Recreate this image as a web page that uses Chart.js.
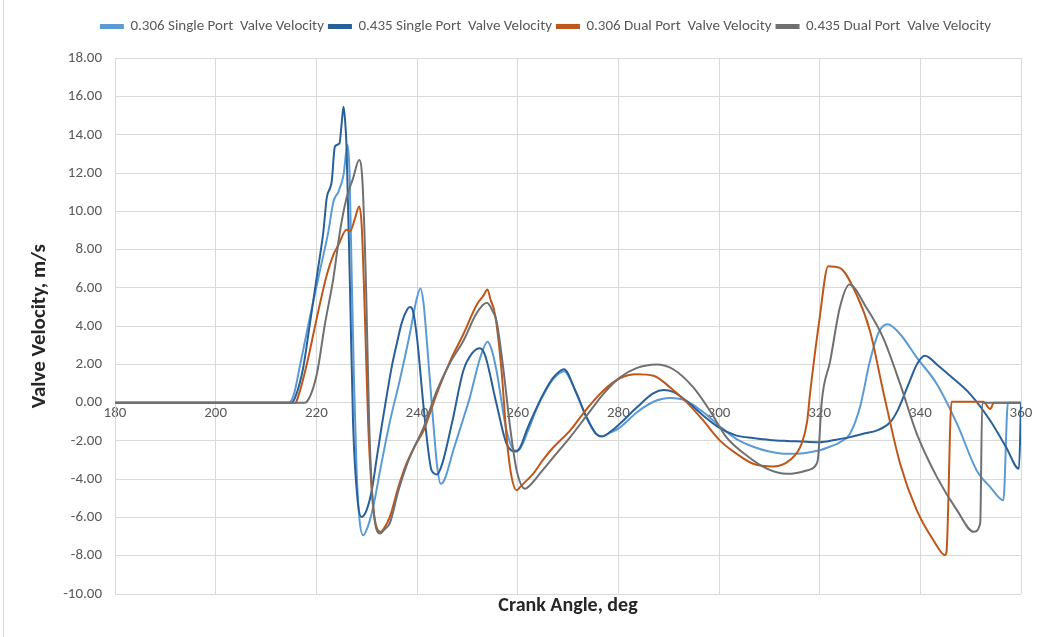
<!DOCTYPE html>
<html>
<head>
<meta charset="utf-8">
<script src="https://cdn.jsdelivr.net/npm/chart.js@4.4.0/dist/chart.umd.min.js"></script>
<style>
html,body{margin:0;padding:0;background:#fff;}
#wrap{position:relative;width:1040px;height:637px;}
#edge{position:absolute;left:3px;top:0;width:1px;height:637px;background:#d9d9d9;}
</style>
</head>
<body>
<div id="wrap"><canvas id="c" width="1040" height="637"></canvas><div id="edge"></div></div>
<script>
// ---- data ----
const seriesNames = [
  "0.306 Single Port  Valve Velocity",
  "0.435 Single Port  Valve Velocity",
  "0.306 Dual Port  Valve Velocity",
  "0.435 Dual Port  Valve Velocity"
];
const xTicks = [180, 200, 220, 240, 260, 280, 300, 320, 340, 360];
const yTicks = [-10, -8, -6, -4, -2, 0, 2, 4, 6, 8, 10, 12, 14, 16, 18];

const single306Angle = [180,214.5,215.5,216.8,218.7,220.7,222.4,223.4,224.4,225.4,226.2,226.6,227.0,227.5,228.0,228.5,229.3,230.2,231.3,232.7,234.6,236.6,238.5,240.0,240.7,241.3,241.9,243.2,244.0,244.7,245.5,247.2,249,250.5,252.5,254.0,254.8,255.8,257.8,259.5,260.3,262,263.8,265.5,267.1,269.2,271.5,273.7,275.5,276.7,278.5,280.3,283.7,287,290.3,293.5,296.9,300,303.5,306.8,310,313.5,316.8,319.8,322,324,326,328,330,331.7,333.5,336,339.3,343.3,347.3,351.2,353.9,356.5,357.4,360];
const single306Vel   = [0,0,0.4,2.0,4.44,6.88,8.96,10.52,11.04,11.9,13.47,12.0,7.0,1.0,-3.5,-5.9,-6.93,-6.5,-5.45,-3.5,-1.0,1.2,3.5,5.5,5.97,5.2,3.4,-0.94,-3.3,-4.24,-4.0,-2.5,-1.0,0.28,2.3,3.19,2.8,1.67,-1.46,-2.5,-2.45,-1.5,-0.3,0.6,1.25,1.65,0.6,-0.8,-1.6,-1.75,-1.55,-1.3,-0.5,0.05,0.24,0.1,-0.5,-1.2,-1.9,-2.3,-2.55,-2.67,-2.64,-2.5,-2.3,-2.07,-1.63,-0.24,2.19,3.66,4.1,3.58,2.36,0.97,-1.11,-3.54,-4.41,-5.1,0,0];

const single435Angle = [180,215,215.8,217.4,218.7,220.06,221.4,222.06,223.05,223.7,224.6,225.0,225.4,225.7,226.0,226.7,227.3,228.2,229.0,230.0,231,232,233,234,235,236,237,238,238.6,239.2,240,241.25,242.1,242.9,244.0,245,247,249.2,251,252.5,253.5,255.8,257.8,259.8,260.5,262,263.8,265.5,267.1,269.2,271.5,273.7,275.5,276.7,278.5,280.3,283.7,287,289,291,293.5,296.9,300,303.5,306.8,310.1,313.5,316.8,320,323,326,329,331.3,334,335.5,336.6,338,339.3,340.9,343.5,345.9,349.9,353.9,357,359.6,360];
const single435Vel   = [0,0,0.28,1.84,4.1,6.53,8.96,10.7,11.56,13.4,13.56,14.5,15.47,14.8,13.4,5.83,-1.1,-5.1,-5.97,-5.6,-4.6,-2.9,-1.2,0.4,1.9,3.1,4.2,4.85,5.0,4.8,3.4,-0.07,-2.2,-3.54,-3.75,-3.2,-1.0,1.67,2.6,2.85,2.5,-0.07,-2.15,-2.55,-2.33,-1.3,-0.24,0.65,1.32,1.75,0.6,-0.76,-1.6,-1.77,-1.5,-1.1,-0.24,0.5,0.66,0.55,0.1,-0.68,-1.3,-1.72,-1.85,-1.95,-2.0,-2.03,-2.07,-1.95,-1.8,-1.6,-1.46,-1.02,-0.4,0.28,1.2,2.0,2.45,1.95,1.41,0.45,-0.94,-2.3,-3.45,0];

const dual306Angle = [180,215.8,216.1,218.1,220.1,222.1,223.4,224.4,226.0,226.7,227.7,228.5,229.0,229.7,230.3,231.3,232.7,233.6,234.6,236.3,237.9,239.5,241.3,243.9,246.6,249.2,251.9,253.2,254.0,254.6,255.5,256.8,257.8,258.8,259.8,260.5,261.8,263.1,265,267.1,270.4,273.7,277.0,280.3,283.6,287,290.3,293.6,296.9,300.2,303.5,306.8,310.8,314.1,316.4,317.5,318.1,320,321.7,324,327.3,330,332.6,336,339.3,342.6,344.9,345.2,346.2,352.5,353.9,354.6,360];
const dual306Vel   = [0,0,0.1,2.0,4.44,6.7,7.74,8.26,9.04,8.96,9.65,10.26,9.3,4.1,-1.1,-5.45,-6.75,-6.5,-5.97,-4.41,-3.19,-2.3,-1.46,0.45,2.19,3.58,5.14,5.6,5.92,5.4,4.62,1.67,-1.81,-3.89,-4.58,-4.4,-4.06,-3.71,-3.0,-2.33,-1.46,-0.33,0.63,1.28,1.49,1.41,0.8,0.02,-0.94,-1.98,-2.67,-3.19,-3.33,-3.0,-2.15,-1.0,0.5,4.44,7.14,7.05,5.66,3.75,0.63,-3.2,-5.63,-7.19,-7.97,-7.8,0.05,0.05,-0.33,0,0];

const dual435Angle = [180,217.6,218.1,220.1,221.7,223.4,224.7,226.0,227.3,228.5,229.2,229.9,230.5,231.3,232.7,233.6,234.6,236.3,237.9,239.5,241.3,243.9,246.6,249.2,251.9,253.9,255.0,255.8,257.2,258.5,259.8,261.5,262.5,264.4,267.1,270.4,273.7,277.0,280.3,283.6,287.6,290.9,294.9,298.2,301.5,305.5,309.5,313.5,317.4,319.4,319.7,320.4,322.1,324,325.9,329.3,332.6,336,339.3,343.3,347.3,350.6,351.9,352.3,360];
const dual435Vel   = [0,0,0.05,1.5,4.1,6.53,8.96,10.7,11.73,12.69,11.39,5.83,-1.1,-5.45,-6.84,-6.6,-6.3,-4.6,-3.3,-2.3,-1.3,0.6,2.1,3.23,4.7,5.22,4.8,4.27,1.67,-1.28,-3.54,-4.5,-4.3,-3.71,-2.85,-1.81,-0.68,0.45,1.32,1.81,2.0,1.75,0.8,-0.42,-1.81,-2.76,-3.45,-3.72,-3.54,-3.19,-2.85,0.02,2.19,4.96,6.18,4.96,3.4,0.97,-1.63,-3.89,-5.63,-6.75,-6.3,0,0];

// ---- chart ----
const colors = ["#5B9BD5", "#2A6099", "#C0571A", "#707070"];
const angleSets = [single306Angle, single435Angle, dual306Angle, dual435Angle];
const velSets = [single306Vel, single435Vel, dual306Vel, dual435Vel];

const FONT = "Carlito, Lato, 'Open Sans', sans-serif";
Chart.defaults.font.family = FONT;

const datasets = seriesNames.map((name, i) => ({
  label: name,
  data: angleSets[i].map((a, k) => ({x: a, y: velSets[i][k]})),
  borderColor: colors[i],
  backgroundColor: colors[i],
  borderWidth: 2,
  pointRadius: 0,
  cubicInterpolationMode: 'monotone',
  fill: false,
  order: 4 - i
}));

// shift the legend block slightly right, as in the reference
const legendShift = {
  id: 'legendShift',
  afterLayout(chart) {
    const lg = chart.legend;
    if (lg) { lg.left += 22; lg.right += 22; }
  }
};

new Chart(document.getElementById('c'), {
  type: 'line',
  data: { datasets },
  plugins: [legendShift],
  options: {
    responsive: false,
    animation: false,
    layout: { padding: { top: 14, left: 27, right: 19, bottom: 19 } },
    plugins: {
      legend: {
        position: 'top',
        labels: {
          boxWidth: 22, boxHeight: 3, padding: 5,
          color: '#595959',
          font: { size: 15 },
          sort: (a, b) => a.datasetIndex - b.datasetIndex
        }
      },
      subtitle: {
        display: true, text: ' ', position: 'top', weight: 500,
        padding: 0, font: { size: 12 }
      },
      title: {
        display: true, text: 'Crank Angle, deg', position: 'bottom',
        fullSize: false, color: '#262626',
        padding: { top: 0, bottom: 0 },
        font: { size: 20, weight: 'bold' }
      },
      tooltip: { enabled: false }
    },
    scales: {
      x: {
        type: 'linear',
        position: { y: 0 },
        min: xTicks[0], max: xTicks[xTicks.length - 1],
        afterBuildTicks: s => { s.ticks = xTicks.map(v => ({value: v})); },
        ticks: { color: '#595959', font: { size: 15 }, padding: 2, maxRotation: 0 },
        grid: { color: '#d9d9d9', drawTicks: false },
        border: { color: '#d9d9d9' }
      },
      y: {
        type: 'linear',
        min: yTicks[0], max: yTicks[yTicks.length - 1],
        afterBuildTicks: s => { s.ticks = yTicks.map(v => ({value: v})); },
        afterFit: s => { s.width = 115 - 27; },
        ticks: { color: '#595959', font: { size: 15 }, padding: 13, callback: v => Number(v).toFixed(2) },
        grid: { color: '#d9d9d9', drawTicks: false },
        border: { color: '#d9d9d9' },
        title: { display: true, text: 'Valve Velocity, m/s', color: '#262626', font: { size: 21, weight: 'bold' }, padding: 0 }
      }
    }
  }
});
</script>
</body>
</html>
